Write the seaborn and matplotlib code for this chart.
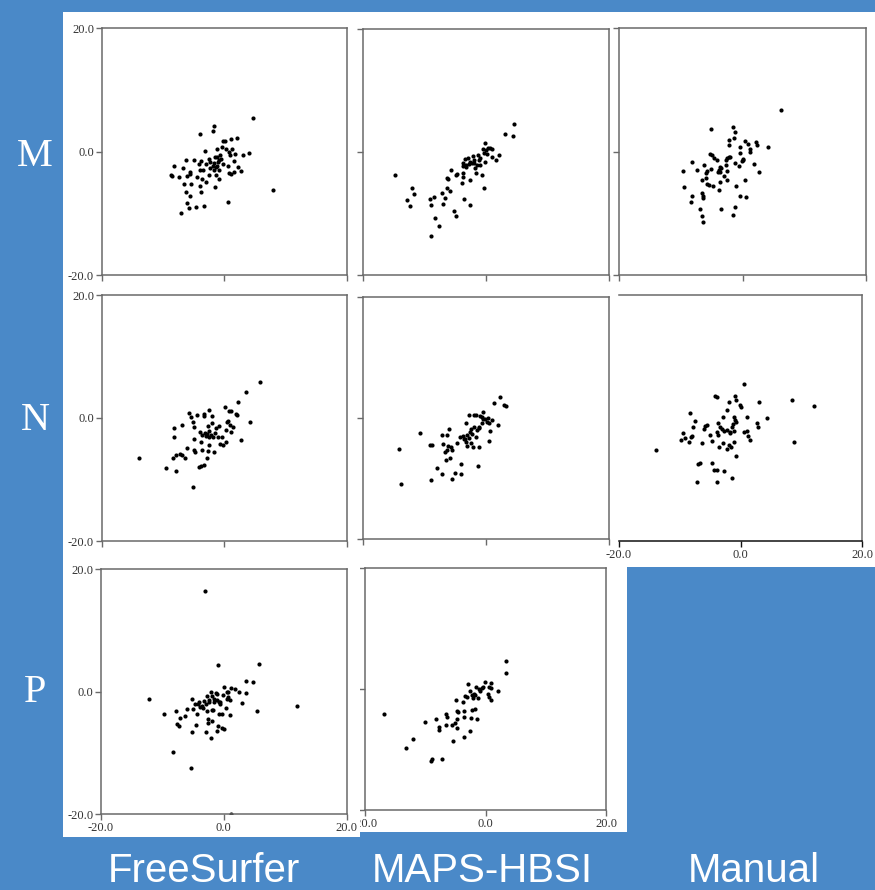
import matplotlib
matplotlib.use("Agg")
import matplotlib.pyplot as plt
from matplotlib.patches import Rectangle
import seaborn as sns
import pandas as pd

# ---------------- data ----------------
row_labels = ["M", "N", "P"]
col_labels = ["FreeSurfer", "MAPS-HBSI", "Manual"]
tick_values = [-20.0, 0.0, 20.0]
tick_labels = ["-20.0", "0.0", "20.0"]

fs_m_x = [4.63, -1.69, -1.85, -4.03, -0.16, 0.11, 1.14, 2.12, -0.33, -1.25, 0.33, 1.31, -3.21, 0.71,
          4.08, 2.99, 1.74, -0.76, -1.14, 0.93, -2.56, -4.95, -6.20, -0.54, -0.93, -1.69, -0.27, -4.19,
          -2.94, -1.20, 0.60, -1.41, 2.29, 1.52, -8.22, -6.69, -7.40, -8.65, -8.49, -5.55, -5.66, -6.15,
          -4.03, -3.54, -2.34, -1.63, -0.93, 0.71, 1.14, 1.58, 2.67, -2.56, -4.41, -3.59, -3.05, -1.31,
          -0.87, -6.53, -5.39, -4.03, -3.81, -6.20, -5.55, -1.52, 0.54, 8.00, -6.04, -5.77, -4.57, -3.37,
          -7.07, -2.29, -1.47, -1.09, -1.80, -3.76]
fs_m_y = [5.46, 4.11, 3.30, 2.86, 1.68, 1.78, 2.05, 2.27, 0.81, 0.38, 0.43, 0.38, 0.05, -0.11,
          -0.27, -0.59, -0.38, -0.49, -0.92, -0.49, -1.19, -1.30, -1.35, -1.14, -1.35, -1.89, -2.00, -1.95,
          -2.00, -2.27, -2.27, -2.54, -2.43, -1.46, -2.27, -2.65, -4.05, -3.78, -4.00, -3.35, -3.57, -3.89,
          -2.92, -3.03, -2.70, -2.92, -3.03, -3.41, -3.57, -3.24, -3.14, -3.78, -4.16, -4.49, -4.86, -3.78,
          -4.49, -5.24, -5.30, -5.62, -6.49, -6.49, -7.14, -5.78, -8.22, -6.16, -8.32, -9.19, -8.92, -8.86,
          -9.95, -1.73, -0.92, -1.73, -2.27, -1.46]

maps_m_x = [4.65, 3.09, 4.49, -0.11, -0.43, -0.05, 0.27, 0.70, 1.03, -0.32, 0.22, 2.11, 0.92, 1.68,
            -1.24, -2.06, -2.98, -3.36, -2.65, -3.63, -1.89, -1.14, -1.46, -0.92, -0.16, -1.73, -2.33,
            -2.81, -3.79, -3.19, -5.68, -4.71, -4.92, -3.73, -3.68, -1.62, -0.70, -6.39, -6.22, -3.90,
            -2.54, -0.38, -14.78, -12.07, -11.64, -12.88, -12.29, -6.33, -5.90, -7.09, -6.60, -8.44,
            -9.09, -8.88, -7.04, -3.57, -2.54, -5.14, -4.92, -8.23, -7.63, -8.93, -3.25, -2.00, -1.03]
maps_m_y = [4.50, 2.87, 2.60, 1.46, 0.43, 0.27, 0.60, 0.60, 0.49, -0.11, -0.27, -0.49, -0.81, -1.30,
            -0.49, -0.70, -0.92, -1.19, -1.57, -1.73, -1.35, -1.35, -2.11, -2.11, -1.57, -2.55, -1.79,
            -1.90, -2.33, -2.44, -2.93, -3.63, -3.74, -3.47, -4.01, -3.47, -3.79, -4.17, -4.39, -5.09,
            -4.61, -5.91, -3.69, -5.80, -6.88, -7.86, -8.83, -5.80, -6.34, -6.61, -7.43, -7.26,
            -7.70, -8.62, -8.51, -7.70, -8.56, -9.59, -10.41, -10.68, -12.09, -13.60, -2.11, -1.84, -1.03]

man_m_x = [6.25, -5.11, -1.54, -1.22, -1.33, -2.14, -2.14, 0.41, 0.95, 2.14, 2.30, 4.09, -0.41, 1.27,
           1.14, -0.35, 0.14, -0.03, 1.87, 2.63, -5.28, -5.01, -4.57, -4.19, -2.20, -2.47, -2.68, -1.14,
           -0.62, -2.73, -3.44, -3.71, -3.60, -4.03, -2.57, -5.11, -5.71, -5.98, -6.25, -7.33, -8.15,
           -9.61, -5.93, -6.58, -5.76, -5.39, -4.79, -3.06, -2.52, -3.60, -3.76, -1.00, 0.35, -9.50,
           -8.20, -8.42, -6.52, -6.36, -6.47, -0.35, 0.51, -6.85, -3.54, -1.16, -1.49, -6.58, -6.41,
           -3.87, -2.03, 0.08]
man_m_y = [6.81, 3.73, 4.00, 3.14, 2.27, 1.95, 1.08, 1.73, 1.24, 1.51, 1.08, 0.81, 0.81, 0.38,
           0.00, -0.27, -1.19, -1.57, -1.95, -3.24, -0.38, -0.54, -1.03, -1.35, -0.81, -1.08, -1.35, -1.78,
           -2.32, -2.22, -2.70, -2.54, -3.35, -3.35, -3.14, -2.86, -3.14, -3.51, -2.16, -2.97, -1.68,
           -3.19, -4.27, -4.59, -5.19, -5.41, -5.62, -4.00, -4.59, -4.92, -6.16, -5.51, -4.65, -5.68,
           -7.14, -8.11, -6.76, -7.14, -7.46, -7.14, -7.35, -9.30, -9.35, -8.92, -10.22, -10.43, -11.35,
           -3.03, -0.86, -1.30]

fs_n_x = [5.85, 3.51, 2.20, 0.19, 0.84, 1.06, 1.93, 2.09, -2.48, -3.35, -3.29, -2.04, -4.46, -5.80,
          -5.47, -5.03, -4.92, -6.94, -8.19, -8.14, -1.93, -0.79, 0.41, 0.68, 0.95, 1.44, 1.06, 4.22,
          2.80, 0.24, 0.35, -0.14, -0.68, -3.95, -3.62, -3.18, -2.75, -2.20, -1.50, -0.95, -2.53, -3.02,
          -1.88, -4.92, -3.78, -2.53, -4.87, -4.71, -6.12, -3.56, -2.69, -1.61, -7.21, -6.94, -7.86,
          -6.34, -8.30, -2.75, -3.24, -3.73, -4.05, -9.55, -7.92, -13.96, -5.14, -2.58, -1.33, -2.42,
          -0.41]
fs_n_y = [5.85, 4.17, 2.60, 1.73, 1.19, 1.14, 0.65, 0.49, 1.30, 0.65, 0.33, 0.33, 0.49, 0.87,
          0.22, -0.60, -1.52, -1.19, -1.57, -3.09, -0.76, -1.30, -0.60, -0.43, -1.19, -1.52, -2.22, -0.65,
          -3.58, -1.95, -3.85, -4.34, -4.28, -2.22, -2.76, -2.38, -2.60, -2.76, -2.38, -3.04, -2.06, -2.98,
          -3.14, -3.41, -3.85, -4.34, -5.20, -5.58, -4.82, -5.20, -5.37, -5.58, -5.80, -6.02, -6.07,
          -6.50, -6.50, -6.56, -7.64, -7.80, -7.97, -8.08, -8.67, -6.50, -11.17, -1.25, -1.68, -3.14,
          -3.04]

maps_n_x = [2.31, 1.28, 2.90, 3.18, -0.46, -2.80, -2.04, -1.66, -1.00, -0.73, -0.19, 0.35, 0.90, 0.08,
            0.52, 1.98, -0.68, -1.11, -2.04, -3.34, -2.63, -2.52, -1.55, -1.17, 0.68, -3.18, -1.71,
            -3.83, -4.26, -3.50, -3.28, -2.47, -2.14, -3.07, -1.11, 0.52, -6.11, -7.19, -6.32, -10.72,
            -9.15, -8.82, -7.08, -6.16, -5.78, -5.56, -6.70, -4.70, -6.43, -5.89, -6.49, -4.03, -1.36,
            -8.01, -7.19, -5.13, -4.10, -5.56, -8.93, -14.25, -13.86, -3.66, -2.80, -2.36, -0.46]
maps_n_y = [3.46, 2.53, 2.09, 2.03, 0.99, 0.55, 0.55, 0.49, 0.33, 0.16, -0.11, -0.05, -0.33, -0.60,
            -0.77, -1.10, -0.88, -1.54, -1.43, -0.88, -2.31, -1.76, -1.98, -1.65, -2.14, -2.75, -3.19,
            -2.97, -3.08, -3.52, -3.90, -4.07, -4.84, -4.56, -4.78, -3.79, -1.87, -2.80, -2.75, -2.47,
            -4.40, -4.45, -4.29, -4.62, -4.84, -5.22, -5.55, -4.18, -5.33, -6.65, -6.92, -7.53, -7.86,
            -8.30, -9.23, -9.07, -9.18, -10.00, -10.22, -5.05, -10.88, -3.41, -3.30, -2.64, -0.22]

man_n_x = [0.55, -4.27, -3.84, -0.93, -0.77, -1.97, -0.05, 0.05, 3.01, 8.38, 12.11, -2.25, -8.27, -2.90,
           -1.15, 1.04, 4.27, -0.88, -0.71, -1.26, -7.56, -5.59, -5.81, -6.03, -7.78, -3.67, -3.40,
           -3.07, -2.68, -2.19, -1.70, -1.10, -1.48, -1.81, 2.63, 2.90, 0.60, 0.99, 1.15, 1.59, -3.89,
           -3.73, -4.99, -4.66, -9.48, -9.10, -9.75, -8.49, -8.22, -7.95, -6.41, -2.85, -1.97, -1.64,
           -1.10, -3.51, -2.25, 8.77, -13.92, -0.77, -7.01, -6.63, -4.71, -4.33, -3.89, -2.68, -7.23,
           -3.89, -1.48]
man_n_y = [5.58, 3.58, 3.41, 3.52, 2.87, 2.55, 2.06, 1.84, 2.66, 2.93, 2.00, 1.25, 0.87, 0.11,
           0.22, 0.22, 0.05, -0.33, -0.60, -0.98, -0.43, -1.14, -1.30, -1.73, -1.52, -0.76, -1.41,
           -1.73, -2.06, -1.95, -2.22, -2.17, -1.46, -2.38, -0.76, -1.52, -2.28, -2.17, -2.87, -3.58, -2.28,
           -2.82, -2.76, -3.74, -2.38, -3.25, -3.63, -3.85, -3.14, -2.93, -4.07, -4.07, -4.34, -4.66,
           -3.96, -4.77, -4.99, -3.90, -5.15, -6.12, -7.43, -7.32, -7.26, -8.51, -8.46, -8.56, -10.41,
           -10.35, -9.81]

fs_p_x = [-3.07, -0.95, 5.73, 3.58, 4.80, 3.58, 0.08, 1.11, 1.82, 2.41, 0.46, 0.73, -0.14, -2.04,
          -1.33, -1.06, -1.85, -1.68, -1.17, -0.57, -0.57, 0.46, 1.06, 2.96, -3.28, -2.69, -2.36, -2.96,
          -2.36, -5.18, -4.75, -3.93, -3.34, -3.99, -4.26, -3.61, -5.97, -7.71, -7.11, -7.60, -7.27,
          -6.40, -9.74, -12.18, -4.97, -4.32, -4.53, -5.24, -2.79, -1.98, -1.71, -2.63, -2.63, -1.93,
          -0.79, -0.30, 0.30, 0.95, -0.95, -0.24, -0.03, -2.90, -1.06, -2.09, 5.35, 11.91, -8.28, -5.40,
          1.17, -1.55, 0.73, -0.84]
fs_p_y = [16.46, 4.30, 4.46, 1.77, 1.66, -0.14, 0.79, 0.68, 0.41, 0.03, 0.03, -0.08, -0.52, 0.03,
          -0.19, -0.41, -0.63, -1.17, -1.39, -1.61, -1.99, -1.25, -1.39, -1.82, -1.47, -0.73, -1.39, -1.96,
          -1.74, -1.12, -2.04, -2.48, -2.64, -1.63, -2.01, -2.29, -2.80, -3.10, -4.34, -5.28, -5.61,
          -3.92, -3.64, -1.12, -2.88, -3.59, -5.39, -6.53, -3.10, -3.05, -3.05, -4.46, -5.17, -4.73,
          -3.70, -3.70, -2.61, -3.81, -5.55, -5.88, -6.04, -6.64, -6.42, -7.51, -3.10, -2.26, -9.90, -12.52,
          -19.92, -1.63, -0.87, -1.74]

maps_p_x = [3.40, 3.35, -0.08, 0.86, -2.85, -1.58, -1.13, -0.86, -0.41, 0.53, 2.13, 0.97, 0.36, 0.64,
            0.91, -2.57, -2.30, -3.40, -3.13, -2.02, -1.74, -1.30, -4.90, -3.68, -2.24, -1.69, -4.79,
            -4.51, -3.62, -2.41, -1.36, -6.61, -6.34, -8.27, -9.96, -4.79, -5.01, -5.50, -6.50, -7.66,
            -7.66, -4.73, -2.63, -3.49, -5.34, -12.09, -13.19, -8.80, -9.10, -7.27, -16.79, -0.64,
            -1.91, -3.62]
maps_p_y = [4.67, 2.69, 1.10, 1.04, 0.88, 0.33, 0.00, -0.33, 0.33, 0.38, -0.33, 0.22, -0.82, -1.37,
            -1.81, -0.27, -0.99, -1.10, -1.26, -1.43, -0.99, -1.54, -1.76, -2.09, -3.52, -3.35, -3.57,
            -3.74, -4.67, -4.84, -4.89, -4.18, -4.62, -4.89, -5.49, -5.00, -5.55, -5.93, -5.99, -6.26,
            -6.76, -6.48, -6.92, -7.86, -8.63, -8.24, -9.67, -11.48, -11.92, -11.59, -4.07, 0.22,
            -0.77, -3.63]

# ---------------- styling ----------------
sns.set_theme(style="white")
plt.rcParams["font.family"] = ["Liberation Serif", "DejaVu Serif"]

BLUE = "#4A89C8"
W, H = 875, 890
fig = plt.figure(figsize=(W / 100, H / 100), dpi=100, facecolor=BLUE)


def fx(px):
    return px / W


def fy(py):
    return 1 - py / H


def tile(x0, y0, x1, y1, z):
    r = Rectangle((fx(x0), fy(y1)), fx(x1) - fx(x0), fy(y0) - fy(y1),
                  transform=fig.transFigure, facecolor="white", edgecolor="none", zorder=z)
    fig.add_artist(r)
    return r


# white picture tiles
tile(63, 12, 875, 567, -10)
tile(360, 555, 627, 832, -9)
tile(63, 555, 360, 837, -7)

# panels: (data x, data y, left, top, right, bottom in px, show y labels, show x labels, zorder, framed left)
panels = [
    (fs_m_x, fs_m_y, 101.7, 28.3, 346.7, 275.0, True, False, -5, True),
    (maps_m_x, maps_m_y, 362.7, 29.0, 609.0, 275.0, False, False, -5, True),
    (man_m_x, man_m_y, 619.3, 28.3, 865.7, 275.0, False, False, -5, True),
    (fs_n_x, fs_n_y, 101.7, 295.0, 346.7, 541.0, True, False, -5, True),
    (maps_n_x, maps_n_y, 363.3, 296.7, 609.0, 539.3, False, False, -5, True),
    (man_n_x, man_n_y, 619.0, 295.0, 862.3, 541.0, False, True, -5, False),
    (fs_p_x, fs_p_y, 101.0, 569.3, 346.7, 814.3, True, True, -5, True),
    (maps_p_x, maps_p_y, 365.0, 567.7, 606.0, 810.3, False, True, -8, True),
]

SPINE = "#6a6a6a"
for xs, ys, l, t, r, b, ylab, xlab, z, left_frame in panels:
    ax = fig.add_axes([fx(l), fy(b), fx(r) - fx(l), fy(t) - fy(b)])
    ax.set_zorder(z)
    df = pd.DataFrame({"x": xs, "y": ys})
    sns.scatterplot(data=df, x="x", y="y", ax=ax, color="black", s=9, linewidth=0, legend=False)
    ax.set_xlim(-20, 20)
    ax.set_ylim(-20, 20)
    ax.set_facecolor("white")
    ax.set_xlabel("")
    ax.set_ylabel("")
    ax.set_xticks(tick_values)
    ax.set_yticks(tick_values)
    ax.set_xticklabels(tick_labels if xlab else ["", "", ""])
    ax.set_yticklabels(tick_labels if ylab else ["", "", ""])
    ax.tick_params(axis="both", direction="out", length=4, width=1.0, color=SPINE,
                   labelsize=9, labelcolor="#333333", pad=1.5,
                   bottom=True, left=left_frame, top=False, right=False)
    for sp in ax.spines.values():
        sp.set_visible(True)
        sp.set_color(SPINE)
        sp.set_linewidth(1.1)
    if not left_frame:
        ax.spines["left"].set_visible(False)
        ax.spines["bottom"].set_color("#111111")
        ax.tick_params(axis="x", color="#111111")

# row labels
for lab, py in zip(row_labels, [157, 421, 692]):
    fig.text(fx(35), fy(py), lab, color="white", fontsize=29, ha="center", va="center",
             family=["Liberation Serif", "DejaVu Serif"])

# column labels
for lab, px in zip(col_labels, [204, 482, 754]):
    fig.text(fx(px), fy(882), lab, color="white", fontsize=29, ha="center", va="baseline",
             family=["Liberation Sans", "DejaVu Sans"])

fig.savefig("out.png", dpi=100, facecolor=BLUE)
